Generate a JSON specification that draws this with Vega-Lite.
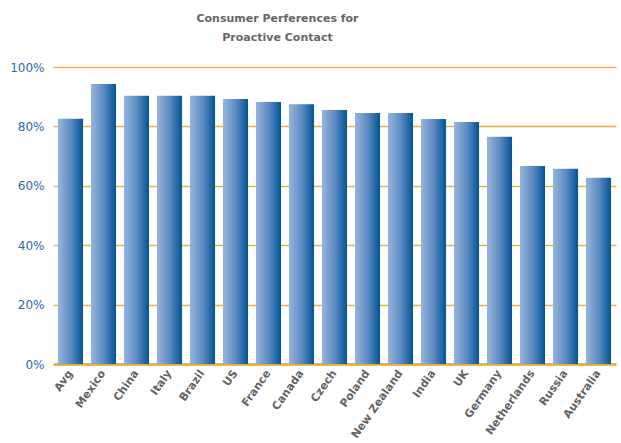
{
  "$schema": "https://vega.github.io/schema/vega-lite/v6.json",
  "width": 563,
  "height": 297,
  "autosize": {"type": "none"},
  "padding": {"left": 53, "top": 67, "right": 5, "bottom": 79},
  "background": "white",
  "title": {
    "text": ["Consumer Perferences for", "Proactive Contact"],
    "font": "DejaVu Sans",
    "fontSize": 11,
    "fontWeight": "bold",
    "color": "#666666",
    "anchor": "middle",
    "frame": "group",
    "dx": -57,
    "offset": 18,
    "lineHeight": 19
  },
  "data": {
    "values": [
      {"country": "Avg", "value": 82.6},
      {"country": "Mexico", "value": 94.3},
      {"country": "China", "value": 90.3},
      {"country": "Italy", "value": 90.3},
      {"country": "Brazil", "value": 90.3},
      {"country": "US", "value": 89.2},
      {"country": "France", "value": 88.2},
      {"country": "Canada", "value": 87.5},
      {"country": "Czech", "value": 85.5},
      {"country": "Poland", "value": 84.5},
      {"country": "New Zealand", "value": 84.5},
      {"country": "India", "value": 82.5},
      {"country": "UK", "value": 81.5},
      {"country": "Germany", "value": 76.5},
      {"country": "Netherlands", "value": 66.7},
      {"country": "Russia", "value": 65.7},
      {"country": "Australia", "value": 62.7}
    ]
  },
  "mark": {
    "type": "bar",
    "color": {
      "gradient": "linear",
      "x1": 0, "x2": 1, "y1": 0, "y2": 0,
      "stops": [
        {"offset": 0, "color": "#97b5dc"},
        {"offset": 0.5, "color": "#5f8cc2"},
        {"offset": 1, "color": "#005596"}
      ]
    }
  },
  "encoding": {
    "x": {
      "field": "country",
      "type": "nominal",
      "sort": null,
      "scale": {"paddingInner": 0.24, "paddingOuter": 0.15},
      "axis": {
        "title": null,
        "labelAngle": -55,
        "labelFont": "DejaVu Sans",
        "labelFontSize": 11,
        "labelFontWeight": "bold",
        "labelColor": "#636363",
        "labelPadding": 7,
        "ticks": false,
        "domainColor": "#e8a92c",
        "domainWidth": 2.5
      }
    },
    "y": {
      "field": "value",
      "type": "quantitative",
      "scale": {"domain": [0, 100]},
      "axis": {
        "title": null,
        "values": [0, 20, 40, 60, 80, 100],
        "labelExpr": "datum.value + '%'",
        "labelFont": "DejaVu Sans",
        "labelFontSize": 12,
        "labelColor": "#2e6aa6",
        "labelPadding": 9,
        "ticks": false,
        "domain": false,
        "gridColor": "#eab34a",
        "gridWidth": 1.5
      }
    }
  },
  "config": {"view": {"stroke": null}}
}
